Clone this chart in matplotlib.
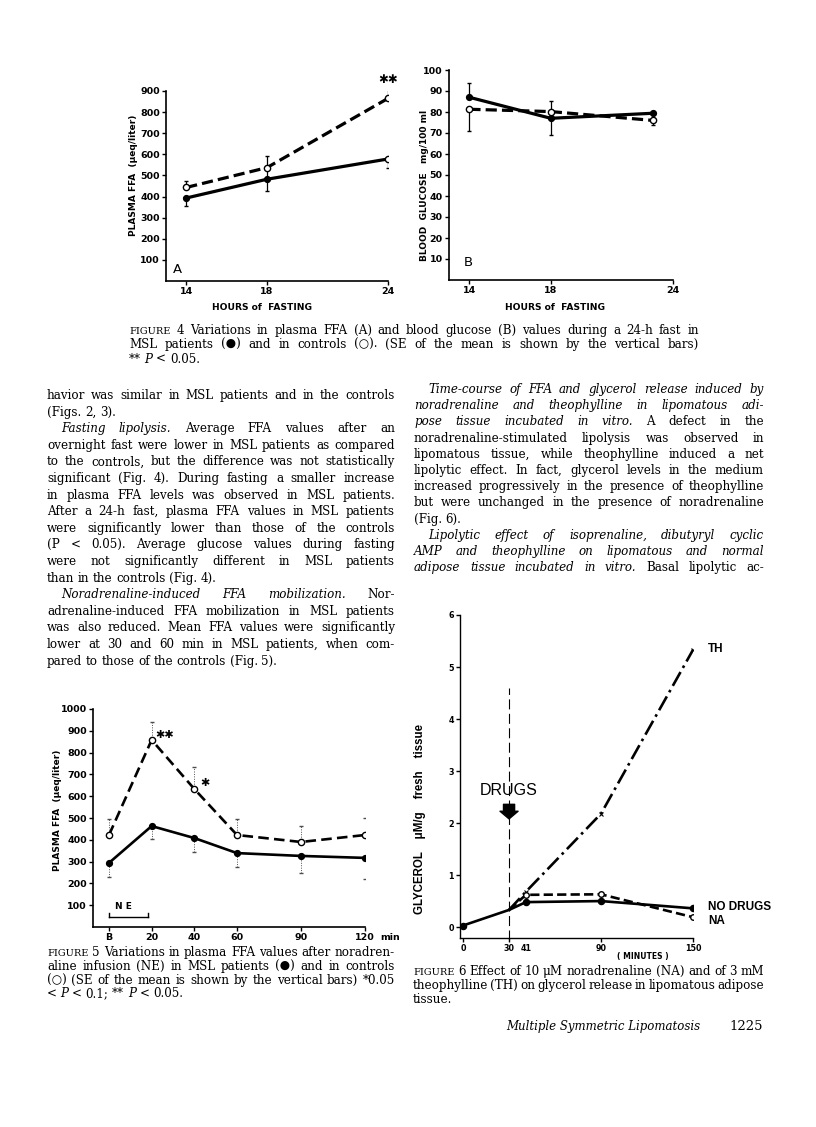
import matplotlib
matplotlib.use('Agg')
import matplotlib.pyplot as plt

W, H = 816, 1127
fig = plt.figure(figsize=(W / 100, H / 100), dpi=100)
SERIF = ['DejaVu Serif', 'DejaVu Sans']
SANS = 'DejaVu Sans'
r = fig.canvas.get_renderer()

# ---- data ----
# Figure 4A: plasma FFA during fasting
fast_h = [14, 18, 24]
ffa_msl = [393, 482, 578]
ffa_msl_lo = [40, 58, 45]
ffa_msl_hi = [0, 55, 0]
ffa_ctl = [443, 537, 865]
ffa_ctl_hi = [30, 53, 56]

# Figure 4B: blood glucose during fasting
gluc_h = [14, 18, 23]
gluc_msl = [87, 77, 79.4]
gluc_msl_lo = [0, 8, 0]
gluc_msl_hi = [7, 0, 0]
gluc_ctl = [81.3, 80.2, 76]
gluc_ctl_lo = [10.5, 0, 2]
gluc_ctl_hi = [0, 5, 0]

# Figure 5: FFA after noradrenaline infusion
ne_min = [0, 20, 40, 60, 90, 120]
ne_labels = ['B', '20', '40', '60', '90', '120']
ne_msl = [294, 463, 408, 339, 326, 317]
ne_msl_lo = [65, 59, 64, 64, 78, 97]
ne_ctl = [422, 858, 633, 422, 390, 422]
ne_ctl_hi = [73, 82, 101, 73, 73, 78]

# Figure 6: glycerol release
gly_min = [0, 30, 41, 90, 150]
gly_nodrug = [0.03, 0.33, 0.48, 0.50, 0.36]
gly_na = [0.33, 0.62, 0.63, 0.19]
gly_th = [0.33, 0.68, 2.18, 5.33]


def px_axes(l, t, rr, b):
    return fig.add_axes([l / W, 1 - b / H, (rr - l) / W, (b - t) / H])


def style_axes(ax):
    for s in ['top', 'right']:
        ax.spines[s].set_visible(False)
    for s in ['left', 'bottom']:
        ax.spines[s].set_linewidth(1.2)
    ax.tick_params(direction='out', length=3, width=1, pad=1.5)
    ax.patch.set_alpha(0)


def ftext(x, y, s, **kw):
    return fig.text(x / W, 1 - y / H, s, **kw)


def put_line(y, x0, x1, line, size=8, justify=True, indent=0):
    objs = []
    for w in line.split():
        st, fs, txt = 'normal', size, w
        if w.startswith('~'):
            st, txt = 'italic', w[1:]
        if w.startswith('^'):
            fs, txt = size * 0.82, w[1:]
        objs.append(fig.text(0, 1 - y / H, txt, fontsize=fs, style=st,
                             family=SERIF, va='baseline', ha='left'))
    widths = [t.get_window_extent(r).width for t in objs]
    space = 0.3 * size * 100 / 72
    avail = x1 - x0 - indent
    gap = space
    if justify and len(objs) > 1:
        gap = max((avail - sum(widths)) / (len(objs) - 1), 1.5)
    x = x0 + indent
    for t, w in zip(objs, widths):
        t.set_x(x / W)
        x += w + gap


def put_block(lines, x0, x1, y0, step, size=8):
    for i, ln in enumerate(lines):
        last = ln.startswith('|')
        ind = 14 if ln.startswith('>') else 0
        put_line(y0 + i * step, x0, x1, ln.lstrip('|>'), size, not last, ind)


BODY = 8.6

# ---------------- Figure 4A ----------------
ax = px_axes(166, 91, 388, 281)
style_axes(ax)
ax.set_xlim(13, 24)
ax.set_ylim(0, 900)
ax.plot(fast_h, ffa_ctl, color='black', lw=2.3, ls=(0, (3.5, 1.6)))
ax.plot(fast_h, ffa_msl, color='black', lw=2.3)
ax.errorbar(fast_h, ffa_msl, yerr=[ffa_msl_lo, ffa_msl_hi], fmt='none',
            ecolor='black', elinewidth=0.9, capsize=1.5)
ax.errorbar(fast_h, ffa_ctl, yerr=[[0, 0, 0], ffa_ctl_hi], fmt='none',
            ecolor='black', elinewidth=0.9, capsize=1.5)
ax.plot(fast_h[:2], ffa_msl[:2], 'o', color='black', ms=4.2)
ax.plot(fast_h[2:], ffa_msl[2:], 'o', mfc='white', mec='black', mew=1, ms=4.5)
ax.plot(fast_h, ffa_ctl, 'o', mfc='white', mec='black', mew=1, ms=4.5)
ax.text(24, 955, '✱✱', ha='center', va='center', fontsize=8.5, fontweight='bold',
        clip_on=False)
ax.text(13.35, 55, 'A', fontsize=9.5, va='center')
ax.set_xticks(fast_h, [str(v) for v in fast_h], fontsize=6.8, fontweight='bold')
ax.set_yticks(range(100, 1000, 100), [str(v) for v in range(100, 1000, 100)],
              fontsize=6.8, fontweight='bold')
ftext(134, 175, 'PLASMA FFA  (μeq/liter)', rotation=90, ha='center', va='center',
      fontsize=6.5, fontweight='bold', family=SANS)
ftext(262, 307, 'HOURS of  FASTING', ha='center', va='center', fontsize=6.6,
      fontweight='bold', family=SANS)

# ---------------- Figure 4B ----------------
ax = px_axes(449, 70, 673, 280)
style_axes(ax)
ax.set_xlim(13, 24)
ax.set_ylim(0, 100)
ax.plot(gluc_h, gluc_ctl, color='black', lw=2.3, ls=(0, (3.5, 1.6)))
ax.plot(gluc_h, gluc_msl, color='black', lw=2.3)
ax.errorbar(gluc_h, gluc_msl, yerr=[gluc_msl_lo, gluc_msl_hi], fmt='none',
            ecolor='black', elinewidth=0.9, capsize=1.5)
ax.errorbar(gluc_h, gluc_ctl, yerr=[gluc_ctl_lo, gluc_ctl_hi], fmt='none',
            ecolor='black', elinewidth=0.9, capsize=1.5)
ax.plot(gluc_h, gluc_msl, 'o', color='black', ms=4.2)
ax.plot(gluc_h, gluc_ctl, 'o', mfc='white', mec='black', mew=1, ms=4.5)
ax.text(13.7, 8.5, 'B', fontsize=9.5, va='center')
ax.set_xticks([14, 18, 24], ['14', '18', '24'], fontsize=6.8, fontweight='bold')
ax.set_yticks(range(10, 110, 10), [str(v) for v in range(10, 110, 10)],
              fontsize=6.8, fontweight='bold')
ftext(424, 185, 'BLOOD  GLUCOSE   mg/100 ml', rotation=90, ha='center', va='center',
      fontsize=6.5, fontweight='bold', family=SANS)
ftext(555, 307, 'HOURS of  FASTING', ha='center', va='center', fontsize=6.6,
      fontweight='bold', family=SANS)

# caption 4
cap4 = [
    "^FIGURE 4  Variations in plasma FFA (A) and blood glucose (B) values during a 24-h fast in",
    "MSL patients (●) and in controls (○). (SE of the mean is shown by the vertical bars)",
    "|** ~P < 0.05.",
]
put_block(cap4, 129, 699, 334, 14.3, BODY)

# body text, two columns
left_col = [
    "havior was similar in MSL patients and in the controls",
    "|(Figs. 2, 3).",
    ">~Fasting ~lipolysis. Average FFA values after an",
    "overnight fast were lower in MSL patients as compared",
    "to the controls, but the difference was not statistically",
    "significant (Fig. 4). During fasting a smaller increase",
    "in plasma FFA levels was observed in MSL patients.",
    "After a 24-h fast, plasma FFA values in MSL patients",
    "were significantly lower than those of the controls",
    "(P < 0.05). Average glucose values during fasting",
    "were not significantly different in MSL patients",
    "|than in the controls (Fig. 4).",
    ">~Noradrenaline-induced ~FFA ~mobilization. Nor-",
    "adrenaline-induced FFA mobilization in MSL patients",
    "was also reduced. Mean FFA values were significantly",
    "lower at 30 and 60 min in MSL patients, when com-",
    "|pared to those of the controls (Fig. 5).",
]
right_col = [
    ">~Time-course ~of ~FFA ~and ~glycerol ~release ~induced ~by",
    "~noradrenaline ~and ~theophylline ~in ~lipomatous ~adi-",
    "~pose ~tissue ~incubated ~in ~vitro. A defect in the",
    "noradrenaline-stimulated lipolysis was observed in",
    "lipomatous tissue, while theophylline induced a net",
    "lipolytic effect. In fact, glycerol levels in the medium",
    "increased progressively in the presence of theophylline",
    "but were unchanged in the presence of noradrenaline",
    "|(Fig. 6).",
    ">~Lipolytic ~effect ~of ~isoprenaline, ~dibutyryl ~cyclic",
    "~AMP ~and ~theophylline ~on ~lipomatous ~and ~normal",
    "~adipose ~tissue ~incubated ~in ~vitro. Basal lipolytic ac-",
]
put_block(left_col, 47, 395, 399, 16.6, BODY)
put_block(right_col, 414, 764, 393, 16.2, BODY)

# ---------------- Figure 5 ----------------
ax = px_axes(93, 709, 365, 927)
style_axes(ax)
ax.set_xlim(-7.5, 120)
ax.set_ylim(0, 1000)
ax.plot(ne_min, ne_ctl, color='black', lw=1.9, ls=(0, (4, 2)))
ax.plot(ne_min, ne_msl, color='black', lw=1.9)
for vals, lo, hi in [(ne_msl, ne_msl_lo, [0] * 6), (ne_ctl, [0] * 6, ne_ctl_hi)]:
    eb = ax.errorbar(ne_min, vals, yerr=[lo, hi], fmt='none', ecolor='0.3',
                     elinewidth=0.7, capsize=1.2)
    eb[2][0].set_linestyle((0, (1, 1.5)))
ax.plot(ne_min, ne_msl, 'o', color='black', ms=4.2)
ax.plot(ne_min, ne_ctl, 'o', mfc='white', mec='black', mew=1, ms=4.5)
ax.text(26, 882, '✱✱', ha='center', va='center', fontsize=8, fontweight='bold')
ax.text(45, 660, '✱', ha='center', va='center', fontsize=8, fontweight='bold')
ax.plot([0, 18.5], [45, 45], color='black', lw=1)
ax.plot([0, 0], [45, 62], color='black', lw=1)
ax.plot([18.5, 18.5], [45, 62], color='black', lw=1)
ax.text(3, 72, 'N E', fontsize=6.5, fontweight='bold', va='bottom')
ax.set_xticks(ne_min, ne_labels, fontsize=6.8, fontweight='bold')
ax.text(127, -50, 'min', fontsize=6.8, fontweight='bold', va='center',
        ha='left', clip_on=False)
ax.set_yticks(range(100, 1100, 100), [str(v) for v in range(100, 1100, 100)],
              fontsize=6.8, fontweight='bold')
ftext(57, 810, 'PLASMA FFA  (μeq/liter)', rotation=90, ha='center', va='center',
      fontsize=6.5, fontweight='bold', family=SANS)

cap5 = [
    "^FIGURE 5  Variations in plasma FFA values after noradren-",
    "aline infusion (NE) in MSL patients (●) and in controls",
    "(○) (SE of the mean is shown by the vertical bars) *0.05",
    "|< ~P < 0.1; ** ~P < 0.05.",
]
put_block(cap5, 47, 395, 956, 13.8, BODY)

# ---------------- Figure 6 ----------------
ax = px_axes(460, 615, 693, 938)
style_axes(ax)
ax.spines['left'].set_linewidth(1)
ax.spines['bottom'].set_linewidth(1)
ax.set_xlim(-2, 150)
ax.set_ylim(-0.21, 6)
ax.plot(gly_min[1:], gly_th, color='black', lw=1.9, ls=(0, (6, 1.8, 1, 1.8)))
ax.plot(gly_min[1:], gly_na, color='black', lw=1.9, ls=(0, (3.5, 1.6)))
ax.plot(gly_min, gly_nodrug, color='black', lw=1.9)
ax.plot(gly_min[2:], gly_th[1:], 'x', color='black', ms=3, mew=0.8)
ax.plot(gly_min[2:], gly_na[1:], 'o', mfc='white', mec='black', mew=1, ms=4)
ax.plot([gly_min[0]] + gly_min[2:], [gly_nodrug[0]] + gly_nodrug[2:], 'o',
        color='black', ms=4.4)
ax.plot([30, 30], [-0.25, 4.6], color='black', lw=0.8, ls=(0, (9, 4)),
        clip_on=False)
ax.annotate('', xy=(30, 2.08), xytext=(30, 2.36),
            arrowprops=dict(arrowstyle='simple,head_width=1.3,head_length=0.55,tail_width=0.8',
                            color='black', shrinkA=0, shrinkB=0))
ax.text(30, 2.62, 'DRUGS', ha='center', va='center', fontsize=11.5,
        family='Liberation Sans')
ax.text(160, 5.35, 'TH', ha='left', va='center', fontsize=8.5, fontweight='bold',
        family='Liberation Sans', clip_on=False)
ax.text(160, 0.38, 'NO DRUGS', ha='left', va='center', fontsize=8.5,
        fontweight='bold', family='Liberation Sans', clip_on=False)
ax.text(160, 0.11, 'NA', ha='left', va='center', fontsize=8.5, fontweight='bold',
        family='Liberation Sans', clip_on=False)
ax.set_xticks([0, 30, 90, 150], ['0', '30', '90', '150'], fontsize=5.8,
              fontweight='bold')
ax.text(41, -0.42, '41', ha='center', va='center', fontsize=5.8,
        fontweight='bold', clip_on=False)
ax.text(117, -0.56, '( MINUTES )', ha='center', va='center', fontsize=5.5,
        fontweight='bold', clip_on=False)
ax.set_yticks(range(0, 7), [str(v) for v in range(0, 7)], fontsize=5.8,
              fontweight='bold')
ftext(420, 819, 'GLYCEROL    μM/g    fresh    tissue', rotation=90, ha='center',
      va='center', fontsize=8.3, fontweight='bold', family='Liberation Sans')

cap6 = [
    "^FIGURE 6  Effect of 10 μM noradrenaline (NA) and of 3 mM",
    "theophylline (TH) on glycerol release in lipomatous adipose",
    "|tissue.",
]
put_block(cap6, 413, 764, 975, 13.8, BODY)

# running foot
ftext(763, 1030, '1225', ha='right', va='baseline', fontsize=9.5, family=SERIF)
ftext(700, 1030, 'Multiple Symmetric Lipomatosis', ha='right', va='baseline',
      fontsize=8.5, style='italic', family=SERIF)

fig.savefig('out.png', dpi=100)
